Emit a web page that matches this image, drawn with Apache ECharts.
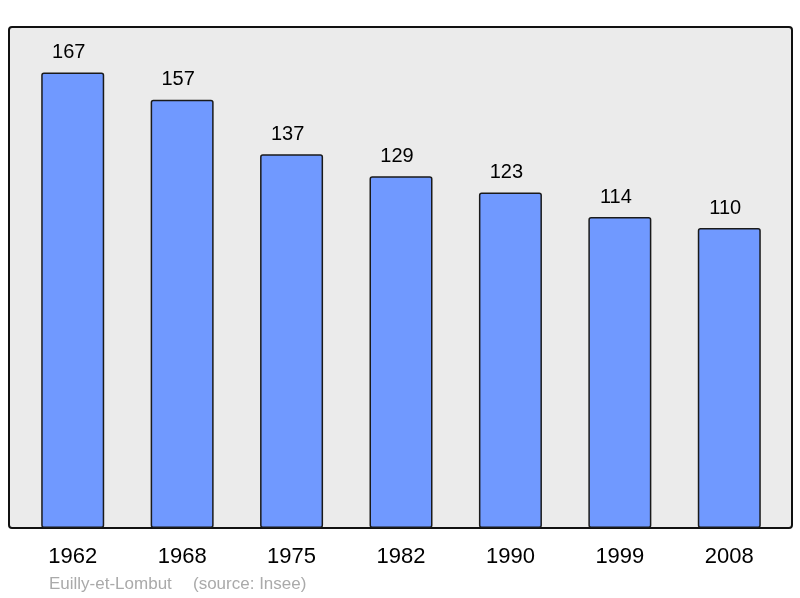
<!doctype html>
<html>
<head>
    <meta charset="utf-8">
    <title>Euilly-et-Lombut</title>
    <script src="https://cdn.jsdelivr.net/npm/echarts@6/dist/echarts.min.js"></script>
    <style>
        body{ margin:0; padding:0; background:#fff; }
        #chart{ width:800px; height:598px; }
    </style>
</head>
<body>
<div id="chart"></div>
<script>
    var years = ['1962', '1968', '1975', '1982', '1990', '1999', '2008'];
    var population = [167, 157, 137, 129, 123, 114, 110];
    var placeName = 'Euilly-et-Lombut';
    var sourceNote = '(source: Insee)';

    var myChart = echarts.init(document.getElementById('chart'));
    var option = {
        animation: false,
        textStyle: { fontFamily: 'Liberation Sans' },
        graphic: [
            {
                // plot frame
                type: 'rect',
                z: -10,
                shape: { x: 9, y: 27, width: 783, height: 501, r: 3 },
                style: { fill: '#ebebeb', stroke: '#111', lineWidth: 2 }
            },
            {
                type: 'text',
                left: 49,
                top: 576,
                style: { text: placeName, fill: '#aaaaaa', font: '17px "Liberation Sans"' }
            },
            {
                type: 'text',
                left: 193,
                top: 576,
                style: { text: sourceNote, fill: '#aaaaaa', font: '17px "Liberation Sans"' }
            }
        ],
        grid: { left: 18, right: 16, top: 27, bottom: 70 },
        xAxis: {
            type: 'category',
            data: years,
            axisLine: { show: false },
            axisTick: { show: false },
            axisLabel: { color: '#000', fontSize: 22, margin: 18 }
        },
        yAxis: {
            type: 'value',
            min: 0,
            max: 183.7,
            show: false
        },
        series: [
            {
                type: 'bar',
                data: population,
                barWidth: 63,
                itemStyle: {
                    color: '#7099ff',
                    borderColor: '#1a1a1a',
                    borderWidth: 1.5,
                    borderRadius: 2
                },
                label: {
                    show: true,
                    position: 'top',
                    distance: 10,
                    offset: [-4, 0],
                    color: '#000',
                    fontSize: 20
                }
            }
        ]
    };
    myChart.setOption(option, true);
</script>
</body>
</html>
